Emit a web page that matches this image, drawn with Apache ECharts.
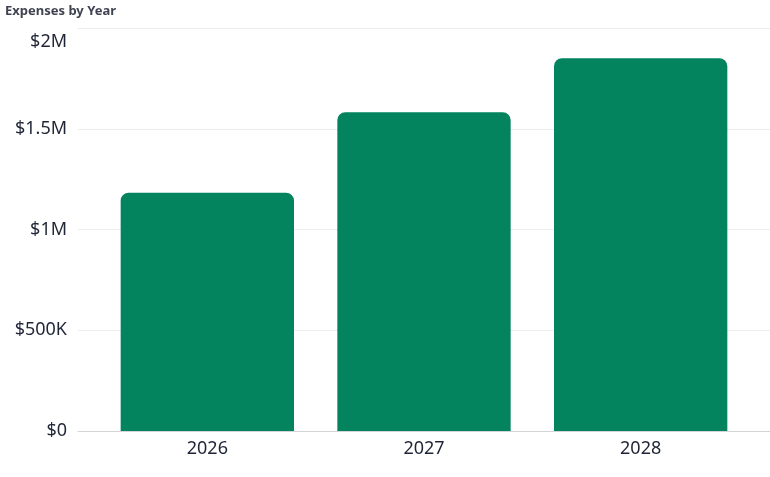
<!DOCTYPE html>
<html>
<head>
<meta charset="utf-8">
<title>Expenses by Year</title>
<script src="https://cdn.jsdelivr.net/npm/echarts@6/dist/echarts.min.js"></script>
<style>
  html, body { margin: 0; padding: 0; background: #ffffff; }
  #chart { width: 770px; height: 477px; }
</style>
</head>
<body>
<div id="chart"></div>
<script>
const TITLE = "Expenses by Year";
const years = ["2026", "2027", "2028"];
const expenses = [1183000, 1582000, 1850000];
const yMax = 2000000;
const yStep = 500000;

const FONT = "'Noto Sans', sans-serif";
const TEXT_COLOR = "#1f2536";
const BAR_COLOR = "#03845f";

function formatMoney(value) {
  if (value === 0) {
    return "$0";
  }
  if (value >= 1000000) {
    return `$${value / 1000000}M`;
  }
  return `$${value / 1000}K`;
}

const chart = echarts.init(document.getElementById("chart"));

chart.setOption({
  animation: false,
  textStyle: { fontFamily: FONT },
  title: {
    text: TITLE,
    left: 0,
    top: 0,
    textStyle: { fontSize: 13, fontWeight: "bold", color: "#3f4451", fontFamily: FONT },
  },
  grid: [
    // full-width grid for the value axis and gridlines
    { left: 78, right: 0, top: 28, bottom: 46 },
    // inset grid for the bars
    { left: 99, right: 21, top: 28, bottom: 46 },
  ],
  xAxis: [
    {
      gridIndex: 0,
      type: "value",
      min: 0,
      max: 1,
      axisLabel: { show: false },
      axisTick: { show: false },
      splitLine: { show: false },
      axisLine: { show: true, lineStyle: { color: "#d2d4d8", width: 1 } },
    },
    {
      gridIndex: 1,
      type: "category",
      data: years,
      axisLine: { show: false },
      axisTick: { show: false },
      axisLabel: { fontSize: 18, color: TEXT_COLOR, margin: 9, fontFamily: FONT },
    },
  ],
  yAxis: [
    {
      gridIndex: 0,
      type: "value",
      min: 0,
      max: yMax,
      interval: yStep,
      axisLine: { show: false },
      axisTick: { show: false },
      axisLabel: {
        fontSize: 18,
        color: TEXT_COLOR,
        margin: 11,
        fontFamily: FONT,
        // the top label sits just under its gridline, as in the source
        formatter(value) {
          const text = formatMoney(value);
          return value === yMax ? `{top|${text}}` : text;
        },
        rich: {
          top: { fontSize: 18, color: TEXT_COLOR, fontFamily: FONT, padding: [28, 0, 0, 0] },
        },
      },
      splitLine: { lineStyle: { color: "#ebecee", width: 1 } },
    },
    {
      gridIndex: 1,
      type: "value",
      min: 0,
      max: yMax,
      interval: yStep,
      show: false,
    },
  ],
  series: [
    {
      type: "bar",
      xAxisIndex: 1,
      yAxisIndex: 1,
      data: expenses,
      barCategoryGap: "20%",
      itemStyle: { color: BAR_COLOR, borderRadius: [8, 8, 0, 0] },
    },
  ],
});
</script>
</body>
</html>
